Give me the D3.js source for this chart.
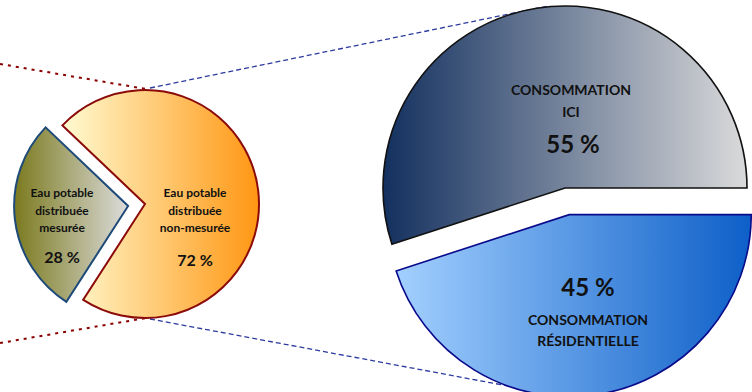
<!DOCTYPE html>
<html><head><meta charset="utf-8">
<script src="https://cdn.jsdelivr.net/npm/d3@7"></script>
<style>html,body{margin:0;padding:0;background:#fff;}svg{display:block;}text{font-family:Lato,"Open Sans",sans-serif;font-weight:bold;fill:#111;}</style>
</head><body>
<svg id="c" width="752" height="392"></svg>
<script>
// Left pie: eau potable distribuée
const leftCategories = ["Eau potable distribuée non-mesurée", "Eau potable distribuée mesurée"];
const leftValues = [72, 28];
const leftLines = [["Eau potable", "distribuée", "non-mesurée"], ["Eau potable", "distribuée", "mesurée"]];
// Right pie: breakdown of measured consumption
const rightCategories = ["CONSOMMATION RÉSIDENTIELLE", "CONSOMMATION ICI"];
const rightValues = [45, 55];
const rightLines = [["CONSOMMATION", "RÉSIDENTIELLE"], ["CONSOMMATION", "ICI"]];

const svg = d3.select("#c");
const defs = svg.append("defs");
const rad = d => d * Math.PI / 180;

function grad(id, c0, c1) {
  const g = defs.append("linearGradient").attr("id", id).attr("x1", "0%").attr("x2", "100%").attr("y1", "0%").attr("y2", "0%");
  g.append("stop").attr("offset", "0%").attr("stop-color", c0);
  g.append("stop").attr("offset", "100%").attr("stop-color", c1);
}
grad("gOrange", "#fffbd2", "#ff9612");
grad("gOlive", "#7b7a1e", "#dcdcdc");
grad("gNavy", "#13305f", "#dadada");
grad("gBlue", "#a3d0ff", "#0d5fc8");

// connector lines (drawn first)
const lines = svg.append("g");
lines.append("line").attr("x1", 0).attr("y1", 64).attr("x2", 146).attr("y2", 89)
  .attr("stroke", "#8b0000").attr("stroke-width", 2).attr("stroke-dasharray", "3,5");
lines.append("line").attr("x1", 0).attr("y1", 343).attr("x2", 146).attr("y2", 318)
  .attr("stroke", "#8b0000").attr("stroke-width", 2).attr("stroke-dasharray", "3,5");
lines.append("line").attr("x1", 150).attr("y1", 88).attr("x2", 548).attr("y2", 6)
  .attr("stroke", "#2d3a9e").attr("stroke-width", 1.3).attr("stroke-dasharray", "5,3");
lines.append("line").attr("x1", 150).attr("y1", 319).attr("x2", 508).attr("y2", 386)
  .attr("stroke", "#2d3a9e").attr("stroke-width", 1.3).attr("stroke-dasharray", "5,3");

// ---- Left pie ----
const lcx = 145, lcy = 204, lr = 114;
const lpie = d3.pie().sort(null).value(d => d).startAngle(rad(-46.4)).endAngle(rad(313.6));
const larc = d3.arc().innerRadius(0).outerRadius(lr);
const lArcs = lpie(leftValues);
const lFill = ["url(#gOrange)", "url(#gOlive)"];
const lStroke = ["#8b0a0a", "#1d4a78"];
const lExplode = [0, 17];
const lg = svg.append("g").attr("transform", `translate(${lcx},${lcy})`);
lArcs.forEach((a, i) => {
  const mid = (a.startAngle + a.endAngle) / 2;
  const dx = Math.sin(mid) * lExplode[i], dy = -Math.cos(mid) * lExplode[i];
  const g = lg.append("g").attr("transform", `translate(${dx},${dy})`);
  g.append("path").attr("d", larc(a)).attr("fill", lFill[i]).attr("stroke", lStroke[i]).attr("stroke-width", 2).attr("stroke-linejoin", "miter");
});
// left labels
const lLabelPos = [195 - lcx, 62 - lcx];
lArcs.forEach((a, i) => {
  const t = lg.append("g").attr("transform", `translate(${lLabelPos[i]},0)`);
  leftLines[i].forEach((s, k) => {
    t.append("text").attr("x", 0).attr("y", 197 - lcy + k * 17.5).attr("text-anchor", "middle").attr("font-size", 12).text(s);
  });
  t.append("text").attr("x", 0).attr("y", (i === 0 ? 266 : 263) - lcy).attr("text-anchor", "middle").attr("font-size", 16).text(leftValues[i] + " %");
});

// ---- Right pie ----
const rcx = 565, rcy = 188, rr = 182;
const rpie = d3.pie().sort(null).value(d => d).startAngle(rad(90)).endAngle(rad(450));
const rarc = d3.arc().innerRadius(0).outerRadius(rr);
const rArcs = rpie(rightValues);
const rFill = ["url(#gBlue)", "url(#gNavy)"];
const rStroke = ["#0a0a8a", "#111111"];
const rExplode = [27, 0];
const rg = svg.append("g").attr("transform", `translate(${rcx},${rcy})`);
rArcs.forEach((a, i) => {
  const mid = (a.startAngle + a.endAngle) / 2;
  const dx = Math.sin(mid) * rExplode[i], dy = -Math.cos(mid) * rExplode[i];
  const g = rg.append("g").attr("transform", `translate(${dx},${dy})`);
  g.append("path").attr("d", rarc(a)).attr("fill", rFill[i]).attr("stroke", rStroke[i]).attr("stroke-width", 1.6);
});
// right labels
const rt = svg.append("g");
// ICI (upper)
rt.append("text").attr("x", 571).attr("y", 95).attr("text-anchor", "middle").attr("font-size", 14).text(rightLines[1][0]);
rt.append("text").attr("x", 571).attr("y", 117).attr("text-anchor", "middle").attr("font-size", 14).text(rightLines[1][1]);
rt.append("text").attr("x", 573).attr("y", 153).attr("text-anchor", "middle").attr("font-size", 24).text(rightValues[1] + " %");
// Résidentielle (lower)
rt.append("text").attr("x", 588).attr("y", 296).attr("text-anchor", "middle").attr("font-size", 24).text(rightValues[0] + " %");
rt.append("text").attr("x", 588).attr("y", 325).attr("text-anchor", "middle").attr("font-size", 14).text(rightLines[0][0]);
rt.append("text").attr("x", 588).attr("y", 346).attr("text-anchor", "middle").attr("font-size", 14).text(rightLines[0][1]);
</script>
</body></html>
